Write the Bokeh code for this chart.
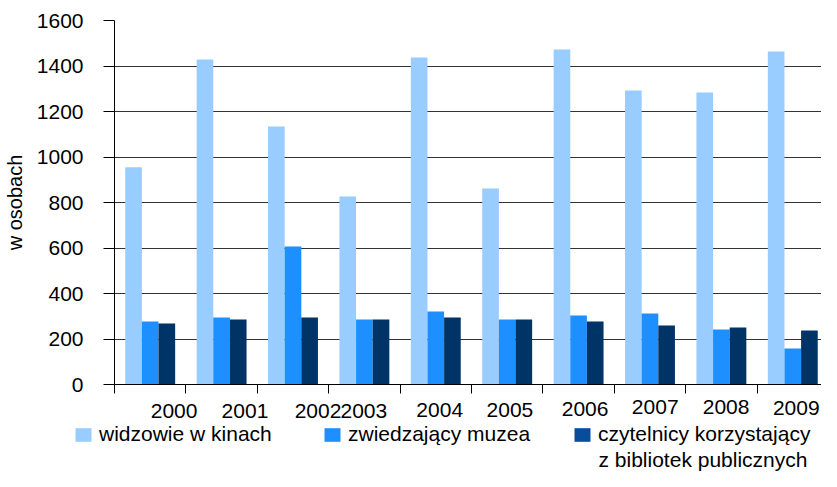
from bokeh.plotting import figure
from bokeh.layouts import column
from bokeh.models import (Range1d, FixedTicker, ColumnDataSource, Legend, LegendItem)
from bokeh.embed import file_html
from bokeh.resources import INLINE
from bokeh.core.properties import value

# ---------------- data ----------------
years = ["2000", "2001", "2002", "2003", "2004", "2005", "2006", "2007", "2008", "2009"]
kino = [955, 1429, 1134, 826, 1437, 862, 1473, 1292, 1284, 1464]
muzea = [277, 294, 607, 286, 321, 286, 303, 312, 242, 158]
biblioteki = [268, 286, 294, 286, 294, 286, 277, 259, 251, 237]
series_names = ["widzowie w kinach", "zwiedzający muzea", "czytelnicy korzystający"]
series3_second_line = "z bibliotek publicznych"
y_ticks = [0, 200, 400, 600, 800, 1000, 1200, 1400, 1600]

# ---------------- style / layout ----------------
bar_colors = ["#99CCFF", "#1E8FFF", "#003366"]
legend_colors = ["#99CCFF", "#1E8FFF", "#084C9E"]
FONT = "Liberation Sans"
FS = "21px"
BAR_W = 0.233
W = 821
LEFT = 112          # frame left (px)
TOP = 20            # frame top (px)
FRAME_H = 364
AXIS_B = 10         # space for x ticks
H1 = TOP + FRAME_H + AXIS_B
H2 = 471 - H1
CAT_PX = 71.6       # px per category
X_END = (W - LEFT) / CAT_PX
# year label placement: shift (category widths) and centre (px below top of lower panel)
label_shift = [0.36, 0.35, 0.37, 0.01, 0.07, 0.05, 0.10, 0.08, 0.07, 0.05]
label_y_px = [16, 16, 16, 16, 15, 15, 14, 12, 12, 13]
legend_pos = [(73, 25), (322, 25), (572, 25)]   # (left px, bottom px from panel bottom)
second_line_px = (598, 65)                      # (left px, centre px from panel top)

p = figure(width=W, height=H1, output_backend="svg", toolbar_location=None,
           x_range=Range1d(0, X_END), y_range=Range1d(0, 1600),
           min_border_left=LEFT, min_border_right=0, min_border_top=TOP,
           min_border_bottom=AXIS_B)
p.outline_line_color = None
p.frame_align = False

series = [kino, muzea, biblioteki]
for k, (vals, col) in enumerate(zip(series, bar_colors)):
    xs = [i + 0.5 + (k - 1) * BAR_W for i in range(len(years))]
    src = ColumnDataSource(dict(x=xs, top=vals))
    p.vbar(x="x", top="top", width=BAR_W, source=src, fill_color=col,
           line_color=None)

# axes
p.xaxis.ticker = FixedTicker(ticks=list(range(0, 11)))
p.xaxis.major_tick_out = 9
p.xaxis.major_tick_in = 0
p.xaxis.minor_tick_line_color = None
p.xaxis.major_label_text_color = None
p.xaxis.major_label_text_font_size = "0px"
p.xaxis.major_label_standoff = 0
p.xaxis.axis_line_color = "black"
p.xaxis.major_tick_line_color = "black"

p.yaxis.ticker = FixedTicker(ticks=y_ticks)
p.yaxis.major_tick_out = 11
p.yaxis.major_tick_in = 0
p.yaxis.minor_tick_line_color = None
p.yaxis.axis_line_color = "black"
p.yaxis.major_tick_line_color = "black"
p.yaxis.major_label_text_font = FONT
p.yaxis.major_label_text_font_size = FS
p.yaxis.major_label_text_color = "black"
p.yaxis.major_label_standoff = 20
p.yaxis.axis_label = "w osobach"
p.yaxis.axis_label_text_font = FONT
p.yaxis.axis_label_text_font_size = "20px"
p.yaxis.axis_label_text_font_style = "normal"
p.yaxis.axis_label_text_color = "black"
p.yaxis.axis_label_standoff = 8

p.xgrid.visible = False
p.ygrid.ticker = FixedTicker(ticks=y_ticks)
p.ygrid.grid_line_color = "#333333"
p.ygrid.grid_line_width = 1

# ---------------- lower panel: year labels + legend ----------------
p2 = figure(width=W, height=H2, output_backend="svg", toolbar_location=None,
            x_range=Range1d(-LEFT / CAT_PX, X_END), y_range=Range1d(H2, 0),
            min_border=0)
p2.frame_align = False
p2.axis.visible = False
p2.grid.visible = False
p2.outline_line_color = None

lab_src = ColumnDataSource(dict(
    x=[i + 0.5 + s for i, s in enumerate(label_shift)],
    y=label_y_px, text=years))
p2.text(x="x", y="y", text="text", source=lab_src, text_align="center",
        text_baseline="middle", text_font=value(FONT), text_font_size=FS,
        text_color="black")

for name, col, loc in zip(series_names, legend_colors, legend_pos):
    # one zero-height bar outside the view so the legend swatch has data to use
    r = p2.vbar(x=[-50], top=[0], bottom=[0], width=BAR_W, fill_color=col,
                line_color=None)
    leg = Legend(items=[LegendItem(label=name, renderers=[r])], location=loc,
                 orientation="horizontal", border_line_color=None,
                 background_fill_alpha=0, padding=0, margin=0, spacing=0,
                 glyph_width=20, glyph_height=17, label_standoff=6,
                 label_height=20,
                 label_text_font=FONT, label_text_font_size=FS,
                 label_text_color="black")
    p2.add_layout(leg, "center")

# second line of the third legend entry
p2.text(x=[(second_line_px[0] - LEFT) / CAT_PX], y=[second_line_px[1]],
        text=[series3_second_line], text_align="left", text_baseline="middle",
        text_font=value(FONT), text_font_size=FS, text_color="black")

layout = column(p, p2, spacing=0)
open("out.html", "w").write(file_html(layout, INLINE))
